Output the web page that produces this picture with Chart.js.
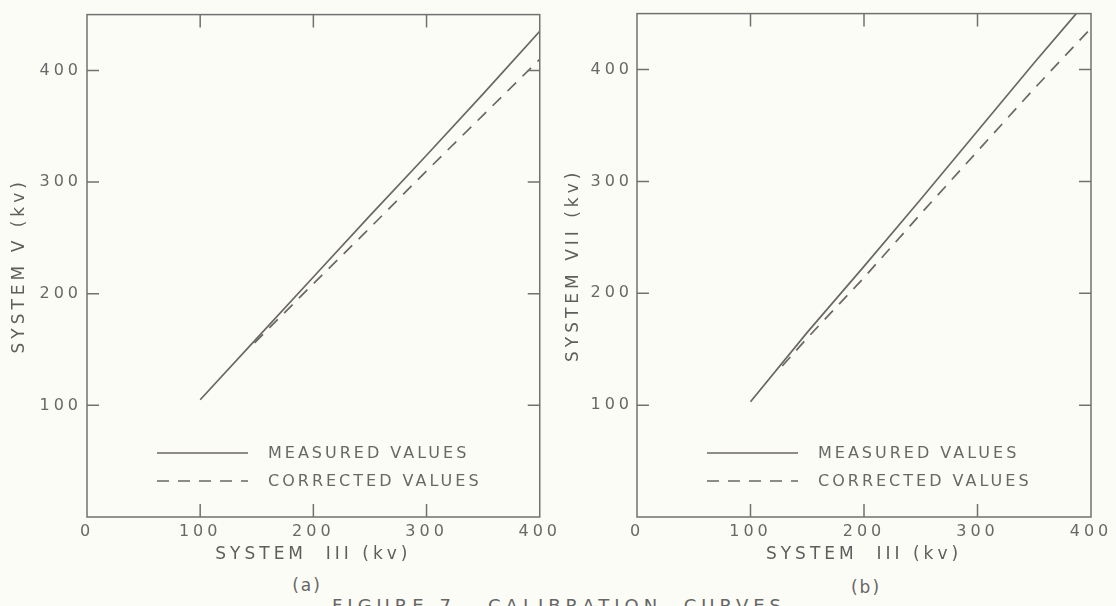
<!DOCTYPE html>
<html>
<head>
<meta charset="utf-8">
<script src="https://cdn.jsdelivr.net/npm/chart.js@4.4.1/dist/chart.umd.min.js"></script>
<style>
  html, body { margin: 0; padding: 0; background: #fcfcf6; }
  body { width: 1116px; height: 606px; position: relative; overflow: hidden; font-family: "DejaVu Sans", sans-serif; color: #666; }
  canvas { position: absolute; top: 0; }
  #chartA { left: 0; }
  #chartB { left: 560px; }
  .tag { position: absolute; font-size: 17px; line-height: 20px; letter-spacing: 2px; transform: translateX(-50%); }
  #caption { position: absolute; left: 332px; top: 596px; font-size: 18px; line-height: 20px; letter-spacing: 5px; white-space: pre; }
</style>
</head>
<body>
<canvas id="chartA" width="560" height="567"></canvas>
<canvas id="chartB" width="556" height="567"></canvas>
<div class="tag" style="left:307px; top:575px;">(a)</div>
<div class="tag" style="left:866px; top:577px;">(b)</div>
<div id="caption">FIGURE 7.  CALIBRATION  CURVES</div>
<script>
// axis ticks
const xTickValues = [0, 100, 200, 300, 400];
const yTickValues = [100, 200, 300, 400];
const innerTicksX = [100, 200, 300];

// panel (a): system V against system III
const measuredAx = [100, 150, 200, 250, 300, 350, 400];
const measuredAy = [105, 160, 215, 270, 324, 379, 435];
const correctedAx = [148, 200, 250, 300, 350, 400];
const correctedAy = [156, 209, 259, 310, 360, 410];

// panel (b): system VII against system III
const measuredBx = [100, 150, 200, 250, 300, 350, 387];
const measuredBy = [103, 165, 224, 284, 345, 406, 450];
const correctedBx = [128, 150, 200, 250, 300, 350, 400];
const correctedBy = [135, 160, 214, 271, 327, 383, 437];

const legendNames = ["MEASURED VALUES", "CORRECTED VALUES"];

const ink = "#6b6762";
const textColor = "#686868";

function toPoints(xs, ys) {
    return xs.map((x, i) => ({ x: x, y: ys[i] }));
}

// box, inward ticks and the legend inside the plot
const framePlugin = {
    id: "frame",
    beforeDraw(chart) {
        chart.ctx.letterSpacing = "4px";
    },
    afterDraw(chart) {
        const ctx = chart.ctx;
        const { left, right, top, bottom } = chart.chartArea;
        const x = chart.scales.x, y = chart.scales.y;
        ctx.save();
        ctx.strokeStyle = "#727070";
        ctx.lineWidth = 1.5;
        ctx.strokeRect(left, top, right - left, bottom - top);
        ctx.beginPath();
        innerTicksX.forEach(v => {
            const px = x.getPixelForValue(v);
            ctx.moveTo(px, bottom); ctx.lineTo(px, bottom - 13);
            ctx.moveTo(px, top); ctx.lineTo(px, top + 13);
        });
        yTickValues.forEach(v => {
            const py = y.getPixelForValue(v);
            ctx.moveTo(left, py); ctx.lineTo(left + 12, py);
            ctx.moveTo(right, py); ctx.lineTo(right - 12, py);
        });
        ctx.stroke();

        // legend
        ctx.font = "16px 'DejaVu Sans'";
        ctx.letterSpacing = "3px";
        ctx.textBaseline = "middle";
        ctx.textAlign = "left";
        chart.data.datasets.forEach((ds, i) => {
            const ly = bottom - 64 + i * 28;
            ctx.strokeStyle = ds.borderColor;
            ctx.lineWidth = ds.borderWidth;
            ctx.setLineDash(ds.borderDash || []);
            ctx.beginPath();
            ctx.moveTo(left + 70, ly);
            ctx.lineTo(left + 161, ly);
            ctx.stroke();
            ctx.setLineDash([]);
            ctx.fillStyle = textColor;
            ctx.fillText(ds.label, left + 181, ly + 1);
        });
        ctx.restore();
    }
};

function makePanel(id, yTitle, mx, my, cx, cy, box) {
    return new Chart(document.getElementById(id), {
        type: "line",
        data: {
            datasets: [{
                label: legendNames[0],
                data: toPoints(mx, my),
                borderColor: ink,
                borderWidth: 1.7,
                pointRadius: 0,
                tension: 0
            }, {
                label: legendNames[1],
                data: toPoints(cx, cy),
                borderColor: ink,
                borderWidth: 1.7,
                borderDash: [12, 9],
                pointRadius: 0,
                tension: 0
            }]
        },
        options: {
            responsive: false,
            animation: false,
            layout: { padding: { left: 0, top: box.top, right: box.right, bottom: 0 } },
            plugins: { legend: { display: false }, tooltip: { enabled: false } },
            scales: {
                x: {
                    type: "linear",
                    min: 0,
                    max: 400,
                    afterBuildTicks: s => { s.ticks = xTickValues.map(v => ({ value: v })); },
                    afterFit: s => { s.height = 50; },
                    grid: { display: false, drawTicks: false },
                    border: { display: false },
                    ticks: { color: textColor, padding: 5, font: { size: 16 } },
                    title: {
                        display: true,
                        text: "SYSTEM  III (kv)",
                        color: "#5e5e5e",
                        font: { size: 17 },
                        padding: { top: 0, bottom: 2 }
                    }
                },
                y: {
                    type: "linear",
                    min: 0,
                    max: 450,
                    afterBuildTicks: s => { s.ticks = yTickValues.map(v => ({ value: v })); },
                    afterFit: s => { s.width = box.yWidth; },
                    grid: { display: false, drawTicks: false },
                    border: { display: false },
                    ticks: { color: textColor, padding: box.tickPad, font: { size: 16 } },
                    title: {
                        display: true,
                        text: yTitle,
                        color: "#5e5e5e",
                        font: { size: 17 },
                        padding: { top: box.titlePad, bottom: 0 }
                    }
                }
            }
        },
        plugins: [framePlugin]
    });
}

Chart.defaults.font.family = "'DejaVu Sans', sans-serif";

makePanel("chartA", "SYSTEM V (kv)", measuredAx, measuredAy, correctedAx, correctedAy,
    { top: 8.5, right: 17, yWidth: 87, tickPad: 5, titlePad: 9 });
makePanel("chartB", "SYSTEM VII (kv)", measuredBx, measuredBy, correctedBx, correctedBy,
    { top: 9, right: 25, yWidth: 77, tickPad: 4, titlePad: 3 });
</script>
</body>
</html>
